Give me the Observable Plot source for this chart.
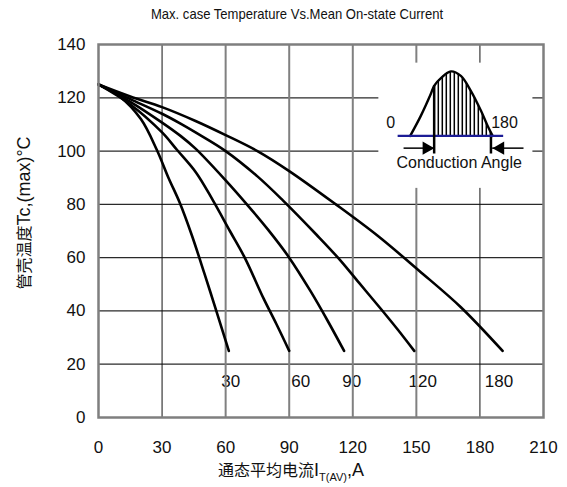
<!DOCTYPE html>
<html>
<head>
<meta charset="utf-8">
<script src="https://cdn.jsdelivr.net/npm/d3@7"></script>
<script src="https://cdn.jsdelivr.net/npm/@observablehq/plot@0.6"></script>
<style>
  body { margin: 0; background: #fff; width: 567px; height: 487px; position: relative; overflow: hidden; }
  #title { position: absolute; top: 5px; left: 297px; transform: translateX(-50%) scaleX(0.87); white-space: nowrap;
           font-family: "Liberation Sans Narrow", "Arial Narrow", "Liberation Sans", sans-serif; font-size: 15px; color: #111; }
  #chart { position: absolute; top: 30px; left: 0; }
</style>
</head>
<body>
<div id="title">Max. case Temperature Vs.Mean On-state Current</div>
<div id="chart"></div>
<script>
// ---- data ----
const xTicks = [0, 30, 60, 90, 120, 150, 180, 210];
const yTicks = [0, 20, 40, 60, 80, 100, 120, 140];
const yGrid = [20, 40, 60, 80, 100, 120];
const xGridDark = [30, 180];
const xGridGray = [60, 90, 120, 150];

const angles = [30, 60, 90, 120, 180];
const current30 = [0, 10, 20, 27.5, 33, 38.3, 44, 50, 56, 61.5];
const temp30    = [125, 120.5, 112, 100.5, 90, 80.7, 68.5, 54, 39, 25];
const current60 = [0, 15, 30, 37, 46, 54, 62, 69, 78, 84, 90];
const temp60    = [125, 117.5, 107, 100.5, 92, 81.5, 70, 60, 44.5, 35, 25];
const current90 = [0, 15, 30, 38.7, 45.8, 60, 70, 80, 90, 100, 108, 115.9];
const temp90    = [125, 118.5, 110.7, 105.7, 100.9, 89, 80, 70.5, 60, 47.5, 36.5, 25];
const current120 = [0, 15, 30, 38.7, 45.8, 60, 75, 87, 103, 113, 123, 133, 141, 149];
const temp120    = [125, 119.5, 114, 110.3, 107, 100, 90.5, 81.5, 68.5, 60, 50.5, 41, 33.2, 25];
const current180 = [0, 15, 30, 45.8, 60, 75, 90, 112, 131.6, 151.3, 171, 190.7];
const temp180    = [125, 120.5, 116.5, 111.3, 106, 100, 92.5, 80, 68.3, 55.1, 41.4, 25];

const curveLabelText = ["30", "60", "90", "120", "180"];
const curveLabelX = [62.4, 95.4, 119.5, 153, 189];
const curveLabelY = [13.5, 13.5, 13.5, 13.5, 13.5];

// inset (conduction angle sketch)
const insetX = [132.3, 205];
const insetY = [86, 133];
const humpX = [147.1, 152.1, 156.8, 158.4, 161.6, 166.3, 171.0, 175.7, 180.5, 183.6, 186.0];
const humpY = [105.7, 113.2, 121.4, 124.5, 127.4, 129.9, 128.2, 122.6, 115.1, 109.5, 105.7];
const firingX = 158.4;
const baseX = [141.4, 191.2];
const baseY = 105.7;
const tickX = [158.4, 185.2];
const tickTop = [124.5, 105.1];
const tickBottom = 98.9;
const arrowFrom = [144.2, 200.8];
const arrowTo = [158.4, 186];
const arrowHeadX = [154.8, 189.6];
const arrowHeadRotate = [90, -90];
const arrowY = 101.1;
const insetText = ["0", "180", "Conduction Angle"];
const insetTextX = [137.9, 191.6, 170.2];
const insetTextY = [110.7, 110.7, 95.7];
const insetTextAnchor = ["middle", "middle", "middle"];

// ---- tables ----
const series = {30: [current30, temp30], 60: [current60, temp60], 90: [current90, temp90], 120: [current120, temp120], 180: [current180, temp180]};
const curveRows = angles.flatMap(a => series[a][0].map((c, i) => ({angle: a, current: c, temp: series[a][1][i]})));
const curveLabels = curveLabelText.map((t, i) => ({t, x: curveLabelX[i], y: curveLabelY[i]}));
const hump = humpX.map((x, i) => ({x, y: humpY[i]}));
const hatch = hump.filter(d => d.x >= firingX);
const ticksIn = tickX.map((x, i) => ({x, y1: tickTop[i], y2: tickBottom}));
const arrows = arrowFrom.map((x1, i) => ({x1, x2: arrowTo[i], y: arrowY, hx: arrowHeadX[i], r: arrowHeadRotate[i]}));
const iText = insetText.map((t, i) => ({t, x: insetTextX[i], y: insetTextY[i], a: insetTextAnchor[i]}));

const narrow = '"Liberation Sans Narrow", "Arial Narrow", "Liberation Sans", sans-serif';
const sans = '"Liberation Sans", Arial, sans-serif';

const plot = Plot.plot({
  width: 567,
  height: 457,
  marginTop: 14,
  marginBottom: 70,
  marginLeft: 98,
  marginRight: 24,
  style: {fontFamily: narrow, fontSize: "17px", color: "#111", background: "white", overflow: "visible"},
  x: {domain: [0, 210], ticks: xTicks, tickSize: 0, tickPadding: 23, label: null, tickFormat: d => String(d)},
  y: {domain: [0, 140], ticks: yTicks, tickSize: 0, tickPadding: 13, label: null, tickFormat: d => String(d)},
  marks: [
    Plot.text(curveLabels, {x: "x", y: "y", text: "t", fill: "#111", fontSize: 17}),
    Plot.ruleY(yGrid, {stroke: "#2a2a2a", strokeWidth: 1.3}),
    Plot.ruleX(xGridDark, {stroke: "#111", strokeWidth: 1}),
    Plot.ruleX(xGridGray, {stroke: "#808080", strokeWidth: 2}),
    Plot.line(curveRows, {x: "current", y: "temp", z: "angle", stroke: "black", strokeWidth: 2.6, curve: "catmull-rom"}),
    Plot.rect([0], {x1: () => insetX[0], x2: () => insetX[1], y1: () => insetY[0], y2: () => insetY[1], fill: "white"}),
    Plot.areaY(hatch, {x: "x", y1: () => baseY, y2: "y", fill: "url(#hatch)", curve: "catmull-rom"}),
    Plot.line(hump, {x: "x", y: "y", stroke: "black", strokeWidth: 2.4, curve: "catmull-rom"}),
    Plot.ruleY([baseY], {x1: () => baseX[0], x2: () => baseX[1], stroke: "#1c1c96", strokeWidth: 2.2}),
    Plot.ruleX(ticksIn, {x: "x", y1: "y1", y2: "y2", stroke: "black", strokeWidth: 2.5}),
    Plot.ruleY(arrows, {y: "y", x1: "x1", x2: "x2", stroke: "black", strokeWidth: 1.5}),
    Plot.dot(arrows, {x: "hx", y: "y", symbol: "triangle", rotate: "r", r: 5, fill: "black", stroke: "none"}),
    Plot.text(iText, {x: "x", y: "y", text: "t", textAnchor: "a", fontFamily: sans, fontSize: 16, fill: "#111"}),
    Plot.frame({stroke: "#7f7f7f", strokeWidth: 2.5})
  ]
});

const svg = d3.select(plot);
const pat = svg.insert("defs", ":first-child").append("pattern")
  .attr("id", "hatch").attr("patternUnits", "userSpaceOnUse").attr("width", 4).attr("height", 20);
pat.append("rect").attr("x", 1.55).attr("y", 0).attr("width", 1.5).attr("height", 20).attr("fill", "black");

// Y axis title
const yt = svg.append("text")
  .attr("transform", "translate(30,183) rotate(-90)")
  .attr("text-anchor", "middle").attr("fill", "#111");
yt.append("tspan").attr("font-family", '"Noto Sans CJK SC", sans-serif').attr("font-size", 16).text("管壳温度");
yt.append("tspan").attr("font-family", sans).attr("font-size", 18).text("Tc,(max)°C");

// X axis title
const xt = svg.append("text")
  .attr("x", 291).attr("y", 446).attr("text-anchor", "middle").attr("fill", "#111");
xt.append("tspan").attr("font-family", '"Noto Sans CJK SC", sans-serif').attr("font-size", 16).text("通态平均电流");
xt.append("tspan").attr("font-family", sans).attr("font-size", 18).text("I");
xt.append("tspan").attr("font-family", sans).attr("font-size", 11).attr("dy", 5).text("T(AV)");
xt.append("tspan").attr("font-family", sans).attr("font-size", 18).attr("dy", -5).text(",A");

document.getElementById("chart").appendChild(plot);
</script>
</body>
</html>
